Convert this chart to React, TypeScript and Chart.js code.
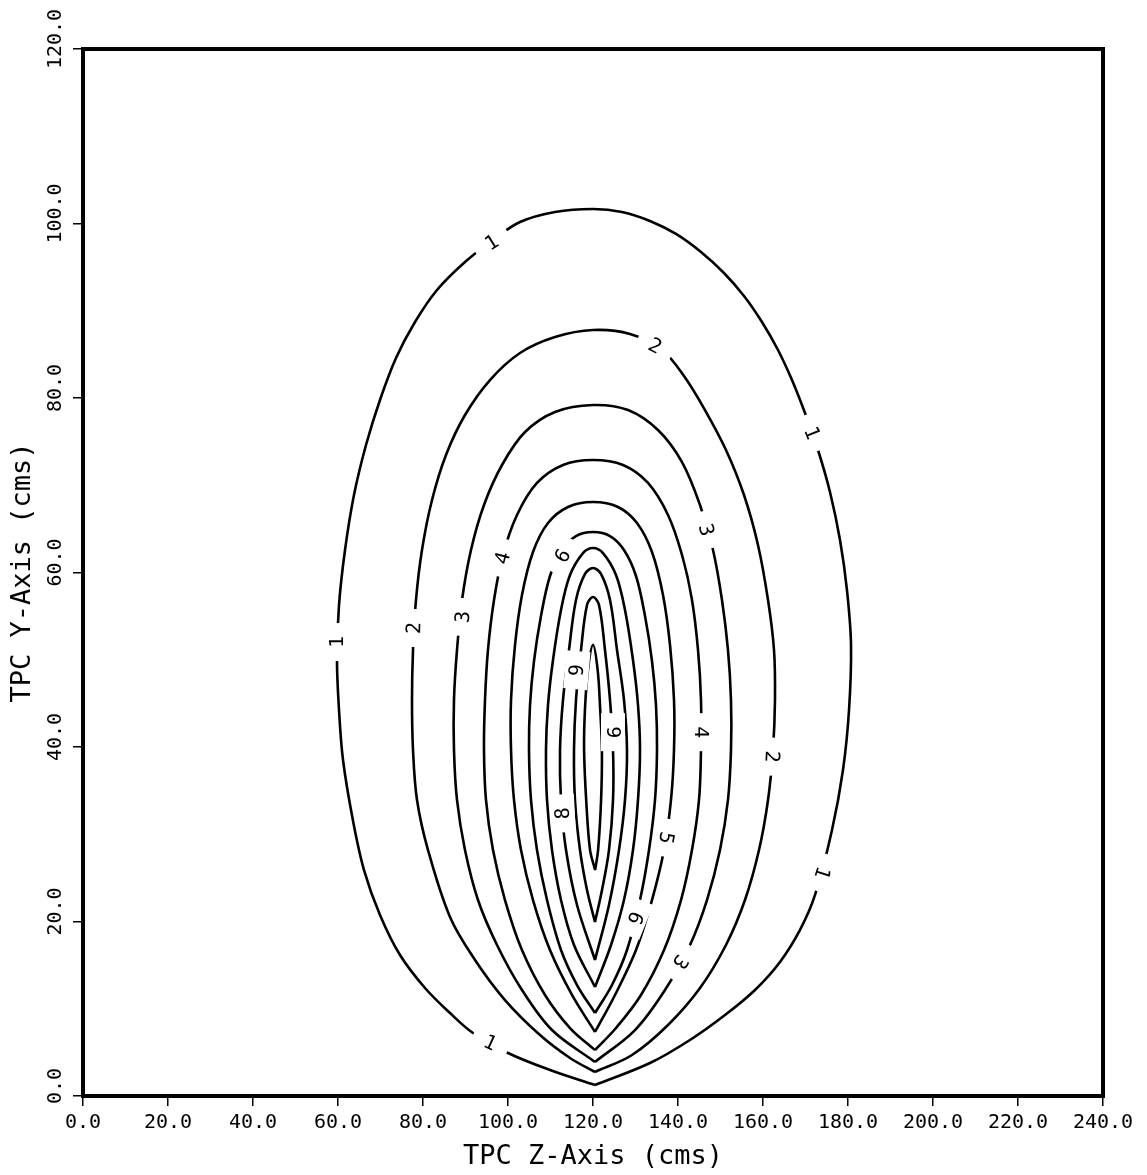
import { useEffect, useRef } from 'react';
import { Chart, registerables } from 'chart.js';

Chart.register(...registerables);

// ---- axis ticks / titles ----
const xTickValues = [0, 20, 40, 60, 80, 100, 120, 140, 160, 180, 200, 220, 240];
const xTickLabels = ['0.0', '20.0', '40.0', '60.0', '80.0', '100.0', '120.0', '140.0', '160.0', '180.0', '200.0', '220.0', '240.0'];
const yTickValues = [0, 20, 40, 60, 80, 100, 120];
const yTickLabels = ['0.0', '20.0', '40.0', '60.0', '80.0', '100.0', '120.0'];
const xTitle = 'TPC Z-Axis (cms)';
const yTitle = 'TPC Y-Axis (cms)';

// ---- contour lines (z, y) in cms, each starts and ends at its lower tip ----
const contourLevels = [1, 2, 3, 4, 5, 6, 7, 8, 9, 10];

const contour1 = [
  [120.47, 1.26], [109.88, 2.98], [100, 4.93], [91.76, 7.22], [86.35, 9.51], [80.47, 12.38], [74.59, 16.16],
  [69.88, 20.75], [66.12, 25.9], [63.5, 31.63], [61.18, 38.51], [60.24, 44.24], [59.76, 49.97], [60.24, 56.28],
  [61.65, 62.58], [63.76, 68.88], [66.59, 74.61], [69.88, 79.77], [73.65, 84.58], [78.12, 88.71], [83.29, 92.38],
  [89.88, 95.59], [96.47, 98.11], [102.82, 100.17], [111.06, 101.32], [120, 101.66], [126.82, 101.32], [133.41, 100.29],
  [139.53, 98.8], [145.41, 96.73], [150.82, 94.33], [155.53, 91.69], [159.76, 88.71], [163.53, 85.5], [166.82, 82.06],
  [169.88, 78.28], [172.94, 74.04], [175.76, 69.23], [178.12, 63.72], [179.76, 57.99], [180.71, 51.69], [180.24, 44.24],
  [178.82, 37.36], [176.24, 30.49], [172.24, 23.04], [168.71, 19.03], [164, 15.36], [158.12, 12.15], [151.06, 9.28],
  [142.82, 6.42], [133.41, 3.78], [120.47, 1.26],
];
const contour2 = [
  [120.47, 2.75], [114.59, 4.36], [107.53, 6.99], [99.29, 11.0], [92.24, 15.59], [86.35, 20.52], [81.18, 28.19],
  [78.59, 33.93], [77.65, 39.66], [77.41, 45.39], [77.65, 51.12], [78.35, 56.85], [79.76, 62.58], [82.12, 68.31],
  [85.41, 73.47], [89.88, 78.05], [95.76, 82.06], [102.82, 85.16], [111.06, 86.99], [120, 87.79], [128.71, 87.34],
  [136.24, 85.5], [141.41, 82.52], [146.35, 78.62], [151.29, 74.04], [155.53, 68.88], [158.82, 63.15], [161.18, 56.85],
  [162.59, 51.12], [162.82, 45.39], [162.35, 39.66], [161.18, 33.93], [159.06, 28.19], [155.76, 22.46], [151.29, 17.31],
  [145.18, 12.38], [137.65, 8.14], [129.18, 4.7], [120.47, 2.75],
];
const contour3 = [
  [120.47, 3.9], [110.35, 7.56], [103.29, 12.15], [97.41, 17.31], [92.94, 22.46], [89.88, 28.19], [88, 33.93],
  [87.29, 39.66], [87.29, 45.39], [88, 51.12], [89.18, 56.85], [91.29, 62.58], [94.35, 67.74], [98.59, 72.32],
  [104, 76.1], [111.06, 78.4], [120, 79.2], [128.24, 78.62], [135.29, 76.33], [140.94, 72.66], [145.18, 67.74],
  [148.24, 62.58], [150.35, 56.85], [151.76, 51.12], [152.47, 45.39], [152.47, 39.66], [151.76, 33.93], [149.88, 28.19],
  [146.82, 22.46], [142.82, 17.31], [136.94, 12.15], [129.88, 7.56], [120.47, 3.9],
];
const contour4 = [
  [120.47, 5.27], [114.59, 7.79], [108.71, 11.58], [103.29, 16.73], [99.29, 22.46], [96.47, 28.19], [94.82, 33.93],
  [94.35, 39.66], [94.59, 45.39], [95.29, 51.12], [96.71, 56.85], [98.82, 62.01], [102.12, 66.59], [106.82, 70.26],
  [112.94, 72.32], [120, 72.89], [127.06, 72.32], [132.94, 70.26], [137.65, 66.59], [140.94, 62.01], [143.29, 56.85],
  [144.71, 51.12], [145.41, 45.39], [145.41, 39.66], [144.94, 33.93], [143.29, 28.19], [140.71, 22.46], [136.71, 16.73],
  [131.29, 11.58], [125.41, 7.79], [120.47, 5.27],
];
const contour5 = [
  [120.47, 7.34], [115.06, 11.58], [109.88, 16.73], [105.88, 22.46], [103.06, 28.19], [101.41, 33.93], [100.71, 39.66],
  [100.71, 45.39], [101.65, 51.69], [103.29, 57.42], [105.88, 62.35], [109.41, 65.67], [114.12, 67.51], [120, 68.08],
  [125.88, 67.51], [130.35, 65.67], [133.88, 62.35], [136.47, 57.42], [138.12, 51.69], [139.06, 45.39], [139.06, 39.66],
  [138.35, 33.93], [136.71, 28.19], [133.88, 22.46], [130.12, 16.73], [125.18, 11.58], [120.47, 7.34],
];
const contour6 = [
  [120.47, 9.51], [116.24, 12.72], [112.47, 16.73], [109.18, 22.46], [106.82, 28.19], [105.41, 33.93], [104.94, 39.66],
  [105.18, 44.81], [106.12, 49.86], [107.76, 55.01], [109.88, 59.6], [112.71, 62.58], [116, 64.18], [120, 64.64],
  [124, 64.18], [127.29, 62.58], [130.12, 59.6], [132.24, 55.01], [133.88, 49.86], [134.82, 44.81], [135.06, 39.66],
  [134.59, 33.93], [133.18, 28.19], [131.06, 22.46], [128, 16.73], [124.47, 12.72], [120.47, 9.51],
];
const contour7 = [
  [120.47, 12.49], [115.53, 17.31], [112.47, 22.46], [110.35, 28.19], [109.18, 33.93], [108.94, 39.66], [109.41, 44.81],
  [110.59, 49.97], [112.47, 55.7], [114.59, 59.71], [117.65, 62.23], [120, 62.81], [122.35, 62.23], [125.41, 59.71],
  [127.53, 55.7], [129.41, 49.97], [130.59, 44.81], [131.06, 39.66], [130.59, 33.93], [129.41, 28.19], [127.29, 22.46],
  [124.24, 17.31], [120.47, 12.49],
];
const contour8 = [
  [120.47, 15.59], [116.24, 21.89], [113.65, 28.19], [112.47, 33.93], [112.24, 39.66], [112.94, 45.39], [114.35, 51.12],
  [116, 56.85], [118.12, 59.83], [120, 60.52], [121.88, 59.83], [124, 56.85], [125.65, 51.12], [127.29, 45.39],
  [128, 39.66], [127.53, 33.93], [126.12, 28.19], [123.76, 21.89], [120.47, 15.59],
];
const contour9 = [
  [120.47, 19.94], [118.59, 23.61], [116.94, 28.19], [115.76, 33.93], [115.53, 39.66], [116, 45.39], [117.18, 51.12],
  [118.59, 56.28], [120, 57.19], [121.41, 56.28], [122.82, 51.12], [124, 45.39], [124.71, 39.66], [124.71, 33.93],
  [123.76, 28.19], [122.12, 23.61], [120.47, 19.94],
];
const contour10 = [
  [120.5, 25.9], [119.3, 28.2], [118.4, 33.9], [117.9, 39.7], [118.1, 44.2], [118.8, 48.8], [120, 51.7],
  [121.1, 48.8], [121.7, 44.2], [122.1, 39.7], [121.9, 33.9], [121.2, 28.2], [120.5, 25.9],
];
const contours = [contour1, contour2, contour3, contour4, contour5, contour6, contour7, contour8, contour9, contour10];

// ---- in-line contour labels (text, z, y, angle in degrees) ----
const labelTexts = ['1', '2', '1', '3', '4', '6', '1', '2', '3', '9', '9', '4', '2', '8', '5', '1', '6', '3', '1'];
const labelZ = [96.2, 134.6, 171.5, 146.6, 98.8, 112.9, 59.8, 77.9, 89.4, 116.2, 124.7, 145.4, 162.1, 112.9, 137.2, 173.9, 129.9, 140.5, 95.8];
const labelY = [97.8, 85.96, 76, 64.87, 61.66, 61.9, 52.03, 53.64, 54.9, 48.8, 41.7, 41.7, 38.9, 32.4, 29.6, 25.6, 20.4, 15.4, 6.07];
const labelAngle = [-32, 28, 68, 75, -75, -60, -90, -88, -87, -85, 90, 90, 93, -93, 100, 108, 112, 125, 25];

const FONT = '"DejaVu Sans Mono", "Liberation Mono", monospace';

const contourLabelPlugin = {
  id: 'contourLabels',
  afterDatasetsDraw(chart: any) {
    const { ctx } = chart;
    const xs = chart.scales.x;
    const ys = chart.scales.y;
    ctx.save();
    ctx.font = `20px ${FONT}`;
    labelTexts.forEach((txt, i) => {
      const px = xs.getPixelForValue(labelZ[i]);
      const py = ys.getPixelForValue(labelY[i]);
      ctx.save();
      ctx.translate(px, py);
      ctx.rotate((labelAngle[i] * Math.PI) / 180);
      ctx.fillStyle = '#ffffff';
      ctx.fillRect(-19, -12, 38, 24);
      ctx.fillStyle = '#000000';
      ctx.textAlign = 'center';
      ctx.textBaseline = 'middle';
      ctx.fillText(txt, 0, 1);
      ctx.restore();
    });
    ctx.restore();
  },
};

const framePlugin = {
  id: 'frameAndYLabels',
  afterDraw(chart: any) {
    const { ctx, chartArea } = chart;
    const ys = chart.scales.y;
    ctx.save();
    ctx.strokeStyle = '#000';
    ctx.lineWidth = 4;
    ctx.strokeRect(chartArea.left, chartArea.top, chartArea.right - chartArea.left, chartArea.bottom - chartArea.top);
    ctx.fillStyle = '#000';
    ctx.font = `20px ${FONT}`;
    ctx.textAlign = 'center';
    ctx.textBaseline = 'middle';
    ys.ticks.forEach((t: any) => {
      const idx = yTickValues.indexOf(t.value);
      if (idx < 0) return;
      const py = ys.getPixelForValue(t.value);
      ctx.save();
      ctx.translate(chartArea.left - 27, py - 10);
      ctx.rotate(-Math.PI / 2);
      ctx.fillText(yTickLabels[idx], 0, 0);
      ctx.restore();
    });
    ctx.restore();
  },
};

export default function App() {
  const canvasRef = useRef<HTMLCanvasElement | null>(null);

  useEffect(() => {
    const canvas = canvasRef.current;
    if (!canvas) return;
    const chart = new Chart(canvas, {
      type: 'scatter',
      data: {
        datasets: contours.map((pts, i) => ({
          label: `Level ${contourLevels[i]}`,
          data: pts.map(([x, y]) => ({ x, y })),
          showLine: true,
          borderColor: '#000000',
          backgroundColor: '#000000',
          borderWidth: 2.6,
          pointRadius: 0,
          tension: 0.35,
          fill: false,
        })),
      },
      options: {
        responsive: false,
        animation: false,
        devicePixelRatio: 1,
        layout: { padding: { top: 49, right: 44, left: 0, bottom: 0 } },
        plugins: {
          legend: { display: false },
          tooltip: { enabled: false },
        },
        scales: {
          x: {
            type: 'linear',
            min: 0,
            max: 240,
            afterBuildTicks: (scale: any) => {
              scale.ticks = xTickValues.map((v) => ({ value: v }));
            },
            afterFit: (scale: any) => {
              scale.height = 79;
            },
            ticks: {
              autoSkip: false,
              maxRotation: 0,
              minRotation: 0,
              padding: 5,
              color: '#000',
              font: { family: FONT, size: 20 },
              callback: (v: any) => {
                const i = xTickValues.indexOf(Number(v));
                return i >= 0 ? xTickLabels[i] : '';
              },
            },
            grid: {
              drawOnChartArea: false,
              drawTicks: true,
              tickLength: 10,
              color: '#000',
              lineWidth: 1.5,
            },
            border: { display: true, color: '#000', width: 4 },
            title: {
              display: true,
              text: xTitle,
              color: '#000',
              font: { family: FONT, size: 27 },
              padding: { top: 0, bottom: 2 },
            },
          },
          y: {
            type: 'linear',
            min: 0,
            max: 120,
            afterBuildTicks: (scale: any) => {
              scale.ticks = yTickValues.map((v) => ({ value: v }));
            },
            afterFit: (scale: any) => {
              scale.width = 83;
            },
            ticks: { display: false },
            grid: {
              drawOnChartArea: false,
              drawTicks: true,
              tickLength: 10,
              color: '#000',
              lineWidth: 1.5,
            },
            border: { display: true, color: '#000', width: 4 },
            title: {
              display: true,
              text: yTitle,
              color: '#000',
              font: { family: FONT, size: 27 },
              padding: { top: 7, bottom: 0 },
            },
          },
        },
      },
      plugins: [contourLabelPlugin, framePlugin],
    });
    return () => chart.destroy();
  }, []);

  return (
    <div style={{ position: 'absolute', left: 0, top: 0, width: 1147, height: 1175, background: '#fff' }}>
      <canvas ref={canvasRef} width={1147} height={1175} style={{ display: 'block', width: 1147, height: 1175 }} />
    </div>
  );
}
